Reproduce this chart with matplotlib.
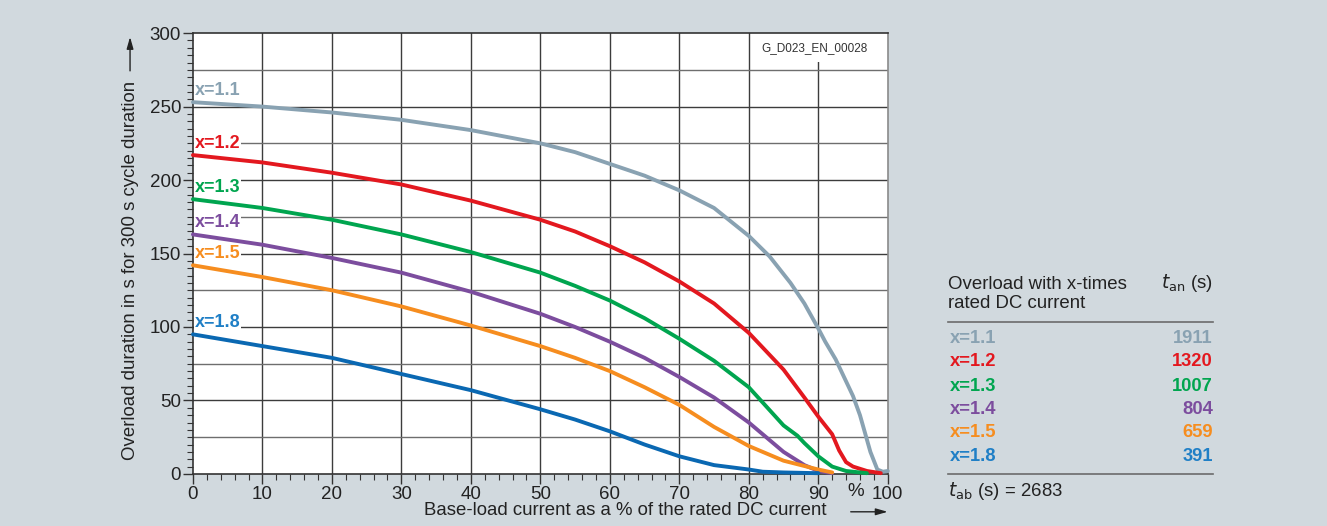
import numpy as np
import matplotlib.pyplot as plt
from matplotlib.ticker import MultipleLocator

plt.rcParams['font.family'] = ['Liberation Sans', 'DejaVu Sans']

# curves: base-load current (%) -> overload duration (s)
x_11 = [0, 10, 20, 30, 40, 50, 55, 60, 65, 70, 75, 80, 83, 86, 88, 90, 91, 92.5, 94, 95, 96, 97.5, 98.5, 99.3, 100]
y_11 = [253, 250, 246, 241, 234, 225, 219, 211, 203, 193, 181, 162, 148, 130, 116, 99, 90, 78, 63, 53, 40, 15, 3, 1.5, 2]

x_12 = [0, 10, 20, 30, 40, 50, 55, 60, 65, 70, 75, 80, 85, 88, 90, 91, 92, 93, 94, 95, 97, 99]
y_12 = [217, 212, 205, 197, 186, 173, 165, 155, 144, 131, 116, 96, 71, 52, 39, 33, 27, 16, 8, 5, 2, 0.5]

x_13 = [0, 10, 20, 30, 40, 50, 55, 60, 65, 70, 75, 80, 85, 87, 88, 90, 92, 94, 97]
y_13 = [187, 181, 173, 163, 151, 137, 128, 118, 106, 92, 77, 59, 33, 26, 21, 12, 5, 2, 0.5]

x_14 = [0, 10, 20, 30, 40, 50, 55, 60, 65, 70, 75, 80, 85, 88, 90, 92]
y_14 = [163, 156, 147, 137, 124, 109, 100, 90, 79, 66, 52, 35, 15, 6, 2, 0.5]

x_15 = [0, 10, 20, 30, 40, 50, 55, 60, 65, 70, 75, 80, 85, 90, 92]
y_15 = [142, 134, 125, 114, 101, 87, 79, 70, 59, 47, 32, 19, 9, 3, 1]

x_18 = [0, 10, 20, 30, 40, 50, 55, 60, 65, 70, 75, 80, 82, 85, 90]
y_18 = [95, 87, 79, 68, 57, 44, 37, 29, 20, 12, 6, 3, 1.5, 1, 0.5]

labels = ["x=1.1", "x=1.2", "x=1.3", "x=1.4", "x=1.5", "x=1.8"]
t_an = ["1911", "1320", "1007", "804", "659", "391"]
t_ab = "2683"
x_ticks = [0, 10, 20, 30, 40, 50, 60, 70, 80, 90, 100]
y_ticks = [0, 50, 100, 150, 200, 250, 300]

colors = ["#89a2b2", "#e3181f", "#00a54f", "#7c4d9e", "#f68d1f", "#0a68b2"]
label_colors = ["#89a2b2", "#e3181f", "#00a54f", "#7c4d9e", "#f68d1f", "#1f7fc6"]

series = [(x_11, y_11), (x_12, y_12), (x_13, y_13), (x_14, y_14), (x_15, y_15), (x_18, y_18)]

bg = "#d1d9de"
txt = "#222222"
fig = plt.figure(figsize=(13.27, 5.26), dpi=100, facecolor=bg)
ax = fig.add_axes([0.1454, 0.099, 0.5236, 0.838])
ax.set_facecolor("white")

for (xs, ys), c, lab, lc in zip(series, colors, labels, label_colors):
    ax.plot(xs, ys, color=c, lw=2.8, solid_capstyle="round", solid_joinstyle="round", zorder=3, clip_on=False)
    ax.text(0.3, ys[0] + 8, lab, color=lc, fontsize=13, fontweight="bold", va="center", ha="left",
            bbox=dict(facecolor="white", edgecolor="none", pad=0.5), zorder=4)

ax.set_xlim(0, 100)
ax.set_ylim(0, 300)
ax.set_xticks(x_ticks)
ax.set_xticklabels([str(v) for v in x_ticks])
ax.set_yticks(y_ticks)
ax.xaxis.set_minor_locator(MultipleLocator(2))
ax.yaxis.set_minor_locator(MultipleLocator(5))

# grid: every 10 % and every 25 s
for gx in range(10, 100, 10):
    ax.axvline(gx, color="#3c3c3c", lw=1.0, zorder=1)
for gy in range(25, 300, 25):
    ax.axhline(gy, color="#3c3c3c" if gy % 50 == 0 else "#6e6e6e", lw=1.0, zorder=1)

ax.tick_params(axis="both", which="major", length=7, width=1, color="#333333", labelsize=13.5,
               labelcolor=txt, pad=1.5)
ax.tick_params(axis="both", which="minor", length=4, width=0.8, color="#333333")
for side in ["left", "bottom", "top"]:
    ax.spines[side].set_color("#333333")
    ax.spines[side].set_linewidth(1.2)
ax.spines["right"].set_color("#8a8a8a")
ax.spines["right"].set_linewidth(1.2)

fig.text(0.645, 0.066, "%", fontsize=13.5, color=txt, ha="center", va="center")

# drawing number
ax.text(89.5, 290, "G_D023_EN_00028", fontsize=8.5, color="#333333", ha="center", va="center",
        bbox=dict(facecolor="white", edgecolor="none", pad=6), zorder=2)

# axis labels with arrows
fig.text(0.098, 0.485, "Overload duration in s for 300 s cycle duration", rotation=90, fontsize=13.4,
         color=txt, ha="center", va="center")
ax.annotate("", xy=(0.098, 0.935), xycoords="figure fraction", xytext=(0.098, 0.86),
            arrowprops=dict(arrowstyle="-|>,head_length=0.7,head_width=0.2", color=txt, lw=1))
fig.text(0.471, 0.03, "Base-load current as a % of the rated DC current", fontsize=13.4,
         color=txt, ha="center", va="center")
ax.annotate("", xy=(0.671, 0.027), xycoords="figure fraction", xytext=(0.639, 0.027),
            arrowprops=dict(arrowstyle="-|>,head_length=0.7,head_width=0.2", color=txt, lw=1))

# table on the right
tx0, tx1 = 0.7145, 0.914
fig.text(tx0, 0.441, "Overload with x-times\nrated DC current", fontsize=13.4, color=txt,
         ha="left", va="center", linespacing=1.2)
fig.text(tx1, 0.462, r"$\it{t}$$_{\rm an}$ (s)", fontsize=13.4, color=txt, ha="right", va="center")
fig.add_artist(plt.Line2D([tx0, tx1], [0.388, 0.388], color="#6b6b6b", lw=1.2))
row_y = [0.357, 0.313, 0.266, 0.221, 0.177, 0.133]
for ry, lab, val, lc in zip(row_y, labels, t_an, label_colors):
    fig.text(tx0 + 0.001, ry, lab, fontsize=13.2, fontweight="bold", color=lc, ha="left", va="center")
    fig.text(tx1, ry, val, fontsize=13.2, fontweight="bold", color=lc, ha="right", va="center")
fig.add_artist(plt.Line2D([tx0, tx1], [0.099, 0.099], color="#6b6b6b", lw=1.2))
fig.text(tx0, 0.066, r"$\it{t}$$_{\rm ab}$ (s) = " + t_ab, fontsize=13.4, color=txt, ha="left", va="center")

fig.savefig("out.png", dpi=100, facecolor=bg)
